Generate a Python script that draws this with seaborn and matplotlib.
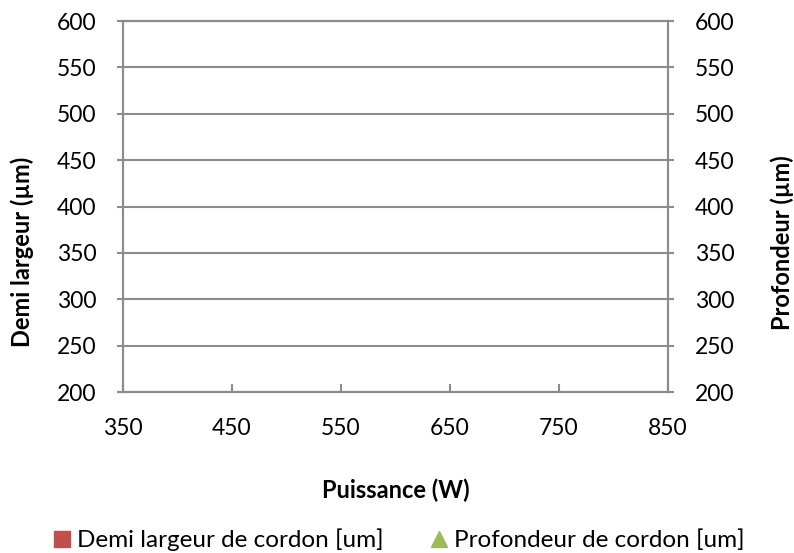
import matplotlib
matplotlib.use("Agg")
import matplotlib.pyplot as plt
from matplotlib.lines import Line2D
import seaborn as sns

# Measurements (no points recorded yet)
puissance = []          # W
demi_largeur = []       # µm
profondeur = []         # µm

x_ticks = [350, 450, 550, 650, 750, 850]
y_ticks = [200, 250, 300, 350, 400, 450, 500, 550, 600]

red = "#C0504D"
green = "#9BBB59"
grid_grey = "#8C8C8C"
fs_tick = 16.5
fs_label = 17
fs_legend = 17.5

sns.set_theme(style="white")
plt.rcParams["font.family"] = ["Lato", "DejaVu Sans"]
plt.rcParams["text.color"] = "black"

fig = plt.figure(figsize=(7.94, 5.53), dpi=100)
ax = fig.add_axes([0.155, 0.291, 0.686, 0.671])

sns.scatterplot(x=puissance, y=demi_largeur, ax=ax, marker="s", color=red, s=60)
ax2 = ax.twinx()
sns.scatterplot(x=puissance, y=profondeur, ax=ax2, marker="^", color=green, s=70)

for a in (ax, ax2):
    a.set_xlim(350, 850)
    a.set_ylim(200, 600)
    a.set_yticks(y_ticks)
    for s in a.spines.values():
        s.set_color(grid_grey)
        s.set_linewidth(1.5)

ax.set_xticks(x_ticks)
ax.set_xticklabels([str(v) for v in x_ticks], fontsize=fs_tick, color="black")
ax.set_yticklabels([str(v) for v in y_ticks], fontsize=fs_tick, color="black")
ax2.set_yticklabels([str(v) for v in y_ticks], fontsize=fs_tick, color="black",
                    ha="left")

ax.yaxis.grid(True, color=grid_grey, linewidth=1.5)
ax.xaxis.grid(False)
ax.tick_params(axis="x", direction="in", length=6, width=1.5, color=grid_grey,
               pad=19, bottom=True)
ax.tick_params(axis="y", direction="out", length=4, width=1.5, color=grid_grey,
               pad=15, left=True)
ax2.tick_params(axis="y", direction="out", length=4, width=1.5, color=grid_grey,
                pad=15.5, right=True)

ax.set_ylabel("Demi largeur (µm)", fontsize=fs_label, fontweight="bold",
              color="black", va="center")
ax2.set_ylabel("Profondeur (µm)", fontsize=fs_label, fontweight="bold",
               color="black", va="center", rotation=90)
ax.set_xlabel("Puissance (W)", fontsize=fs_label, fontweight="bold",
              color="black", va="center")
ax.yaxis.set_label_coords(-0.185, 0.377)
ax2.yaxis.set_label_coords(1.211, 0.404)
ax.xaxis.set_label_coords(0.5, -0.264)

handles = [
    Line2D([], [], marker="s", linestyle="none", color=red, markersize=11),
    Line2D([], [], marker="^", linestyle="none", color=green, markersize=11),
]
labels = ["Demi largeur de cordon [um]", "Profondeur de cordon [um]"]
fig.legend(handles, labels, loc="center", bbox_to_anchor=(0.5, 0.024), ncol=2,
           frameon=False, fontsize=fs_legend, handletextpad=0.1,
           columnspacing=1.8, handlelength=1.0)

fig.savefig("out.png", dpi=100)
